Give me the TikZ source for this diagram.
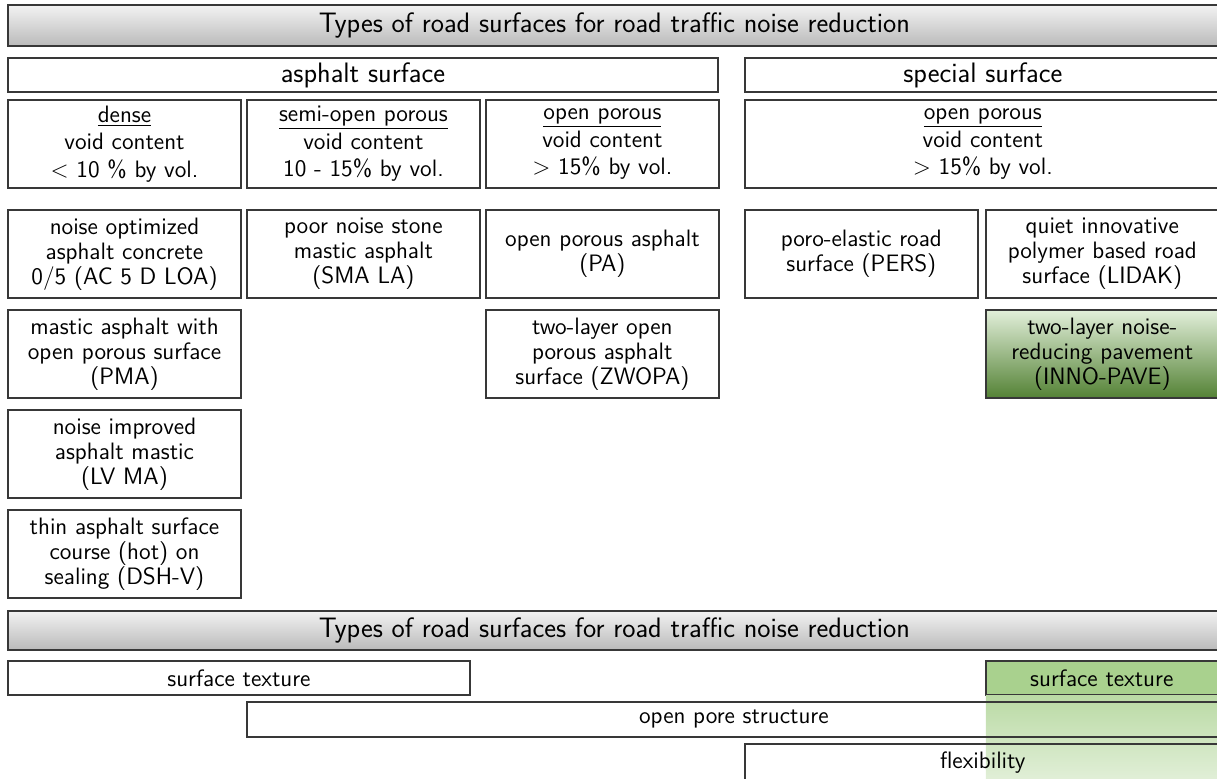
\documentclass[tikz,border=0pt]{standalone}
\usepackage{fontspec}
\usetikzlibrary{positioning,calc}
\definecolor{frame}{rgb}{0.22,0.22,0.22}
\definecolor{greenlight}{RGB}{169,209,142}
\definecolor{greentop}{RGB}{226,239,218}
\definecolor{greendark}{RGB}{84,130,53}
\tikzset{cell/.style={draw=frame,line width=0.8pt,outer sep=0pt,inner sep=1pt,
           minimum width=4.66cm,minimum height=1.76cm,align=center,
           font=\sffamily\fontsize{13.5}{14.2}\selectfont},
         header/.style={draw=frame,line width=1pt,outer sep=0pt,inner sep=0pt,top color=black!5,
           bottom color=black!27,minimum width=24.26cm,minimum height=0.82cm,
           font=\sffamily\fontsize{16}{18}\selectfont},
         group/.style={draw=frame,line width=0.8pt,outer sep=0pt,inner sep=0pt,minimum height=0.68cm,
           font=\sffamily\fontsize{16}{18}\selectfont},
         bar/.style={draw=frame,line width=0.8pt,outer sep=0pt,inner sep=0pt,minimum height=0.68cm,
           font=\sffamily\fontsize{13.5}{16}\selectfont}
}

\begin{document}
\begin{tikzpicture}[x=0.02cm,y=-0.02cm,node distance=0.12cm and 0.12cm]
\useasboundingbox (0,0) rectangle (1217,778);
\clip (0,0) rectangle (1217,778);

% upper part
\node[header,anchor=north west] (title) at (8,5) {Types of road surfaces for road traffic noise reduction};
\node[group,minimum width=14.2cm,below right=0.24cm and 0cm of title.south west] (asphalt) {asphalt surface};
\node[group,minimum width=9.52cm,right=0.54cm of asphalt] (special) {special surface};

\node[cell,below right=0.16cm and 0cm of asphalt.south west] (dense) {\underline{dense}\\[1.5pt]void content\\[1.5pt]< 10 \% by vol.};
\node[cell,right=of dense] (semiopen) {\underline{semi-open porous}\\[1.5pt]void content\\[1.5pt]10 - 15\% by vol.};
\node[cell,right=of semiopen] (openpor) {\underline{open porous}\\[1.5pt]void content\\[1.5pt]> 15\% by vol.};
\node[cell,minimum width=9.52cm,below right=0.16cm and 0cm of special.south west] (specpor) {\underline{open porous}\\[1.5pt]void content\\[1.5pt]> 15\% by vol.};

\node[cell,below=0.44cm of dense] (aclo) {noise optimized\\asphalt concrete\\0/5 (AC 5 D LOA)};
\node[cell,right=of aclo] (smala) {poor noise stone\\mastic asphalt\\(SMA LA)};
\node[cell,right=of smala] (pa) {open porous asphalt\\(PA)};
\node[cell,below right=0.44cm and 0cm of specpor.south west] (pers) {poro-elastic road\\surface (PERS)};
\node[cell,right=0.16cm of pers] (lidak) {quiet innovative\\polymer based road\\surface (LIDAK)};

\node[cell,below=0.24cm of aclo] (pma) {mastic asphalt with\\open porous surface\\(PMA)};
\node[cell,below=0.24cm of pa] (zwopa) {two-layer open\\porous asphalt\\surface (ZWOPA)};
\node[cell,below=0.24cm of lidak,top color=greentop,bottom color=greendark] (innopave) {two-layer noise-\\reducing pavement\\(INNO-PAVE)};

\node[cell,below=0.24cm of pma] (lvma) {noise improved\\asphalt mastic\\(LV MA)};
\node[cell,below=0.24cm of lvma] (dshv) {thin asphalt surface\\course (hot) on\\sealing (DSH-V)};

% lower part
\node[header,minimum height=0.78cm,below right=0.26cm and 0cm of dshv.south west] (title2) {Types of road surfaces for road traffic noise reduction};
\node[bar,minimum width=9.24cm,below right=0.22cm and 0cm of title2.south west] (texture) {surface texture};
\node[bar,minimum width=4.64cm,fill=greenlight,anchor=north west] (texture2) at (texture.north -| lidak.west) {surface texture};
\fill[top color=greenlight!80,bottom color=greenlight!35] ($(texture2.south west)+(0,-0.4pt)$) rectangle ($(texture2.south east)+(0,-1.7cm)$);
\node[bar,minimum width=19.48cm,minimum height=0.7cm,anchor=north west] (pore) at ($(texture.south -| semiopen.west)+(0,-0.14cm)$) {open pore structure};
\node[bar,minimum width=9.52cm,minimum height=0.76cm,anchor=north west] (flex) at ($(pore.south -| specpor.west)+(0,-0.14cm)$) {flexibility};

\end{tikzpicture}
\end{document}
